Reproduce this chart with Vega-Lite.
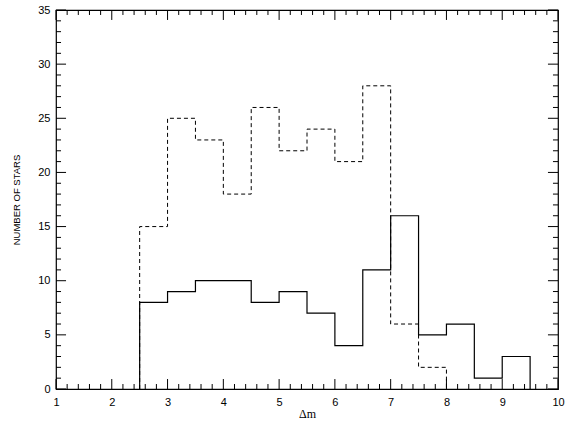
{
  "$schema": "https://vega.github.io/schema/vega-lite/v6.json",
  "width": 502,
  "height": 379,
  "autosize": "none",
  "padding": {"left": 56, "top": 10, "right": 12, "bottom": 33},
  "background": "white",
  "config": {
    "view": {"stroke": "black", "strokeWidth": 1.2},
    "axis": {
      "domain": false,
      "grid": false,
      "ticks": false,
      "labelColor": "black",
      "labelFont": "Liberation Sans",
      "labelFontSize": 11,
      "labelFlush": false,
      "titleColor": "black",
      "titleFontWeight": "normal"
    }
  },
  "datasets": {
    "dashed": [
      {"i": 0, "x": 2.5, "n": 0},
      {"i": 1, "x": 2.5, "n": 15},
      {"i": 2, "x": 3, "n": 25},
      {"i": 3, "x": 3.5, "n": 23},
      {"i": 4, "x": 4, "n": 18},
      {"i": 5, "x": 4.5, "n": 26},
      {"i": 6, "x": 5, "n": 22},
      {"i": 7, "x": 5.5, "n": 24},
      {"i": 8, "x": 6, "n": 21},
      {"i": 9, "x": 6.5, "n": 28},
      {"i": 10, "x": 7, "n": 6},
      {"i": 11, "x": 7.5, "n": 2},
      {"i": 12, "x": 8, "n": 0}
    ],
    "solid": [
      {"i": 0, "x": 2.5, "n": 0},
      {"i": 1, "x": 2.5, "n": 8},
      {"i": 2, "x": 3, "n": 9},
      {"i": 3, "x": 3.5, "n": 10},
      {"i": 4, "x": 4, "n": 10},
      {"i": 5, "x": 4.5, "n": 8},
      {"i": 6, "x": 5, "n": 9},
      {"i": 7, "x": 5.5, "n": 7},
      {"i": 8, "x": 6, "n": 4},
      {"i": 9, "x": 6.5, "n": 11},
      {"i": 10, "x": 7, "n": 16},
      {"i": 11, "x": 7.5, "n": 5},
      {"i": 12, "x": 8, "n": 6},
      {"i": 13, "x": 8.5, "n": 1},
      {"i": 14, "x": 9, "n": 3},
      {"i": 15, "x": 9.5, "n": 0}
    ],
    "xmajor": [{"v": 1}, {"v": 2}, {"v": 3}, {"v": 4}, {"v": 5}, {"v": 6}, {"v": 7}, {"v": 8}, {"v": 9}, {"v": 10}],
    "xminor": [{"v": 1.2}, {"v": 1.4}, {"v": 1.6}, {"v": 1.8}, {"v": 2.2}, {"v": 2.4}, {"v": 2.6}, {"v": 2.8}, {"v": 3.2}, {"v": 3.4}, {"v": 3.6}, {"v": 3.8}, {"v": 4.2}, {"v": 4.4}, {"v": 4.6}, {"v": 4.8}, {"v": 5.2}, {"v": 5.4}, {"v": 5.6}, {"v": 5.8}, {"v": 6.2}, {"v": 6.4}, {"v": 6.6}, {"v": 6.8}, {"v": 7.2}, {"v": 7.4}, {"v": 7.6}, {"v": 7.8}, {"v": 8.2}, {"v": 8.4}, {"v": 8.6}, {"v": 8.8}, {"v": 9.2}, {"v": 9.4}, {"v": 9.6}, {"v": 9.8}],
    "ymajor": [{"v": 0}, {"v": 5}, {"v": 10}, {"v": 15}, {"v": 20}, {"v": 25}, {"v": 30}, {"v": 35}],
    "yminor": [{"v": 1}, {"v": 2}, {"v": 3}, {"v": 4}, {"v": 6}, {"v": 7}, {"v": 8}, {"v": 9}, {"v": 11}, {"v": 12}, {"v": 13}, {"v": 14}, {"v": 16}, {"v": 17}, {"v": 18}, {"v": 19}, {"v": 21}, {"v": 22}, {"v": 23}, {"v": 24}, {"v": 26}, {"v": 27}, {"v": 28}, {"v": 29}, {"v": 31}, {"v": 32}, {"v": 33}, {"v": 34}]
  },
  "layer": [
    {
      "data": {"name": "dashed"},
      "mark": {"type": "line", "interpolate": "step-after", "color": "black", "strokeWidth": 1, "strokeDash": [4, 3]},
      "encoding": {
        "x": {"field": "x", "type": "quantitative",
          "scale": {"domain": [1, 10], "nice": false, "zero": false},
          "axis": {"orient": "bottom", "values": [1, 2, 3, 4, 5, 6, 7, 8, 9, 10], "format": "d", "labelPadding": 7,
            "title": "Δm", "titleFont": "Liberation Serif", "titleFontSize": 12, "titlePadding": 1}},
        "y": {"field": "n", "type": "quantitative",
          "scale": {"domain": [0, 35], "nice": false, "zero": true},
          "axis": {"orient": "left", "values": [0, 5, 10, 15, 20, 25, 30, 35], "format": "d", "labelPadding": 6,
            "title": "NUMBER OF STARS", "titleFont": "Liberation Sans", "titleFontSize": 9.5, "titlePadding": 16}},
        "order": {"field": "i", "type": "quantitative"}
      }
    },
    {
      "data": {"name": "solid"},
      "mark": {"type": "line", "interpolate": "step-after", "color": "black", "strokeWidth": 1.2},
      "encoding": {
        "x": {"field": "x", "type": "quantitative", "axis": null},
        "y": {"field": "n", "type": "quantitative", "axis": null},
        "order": {"field": "i", "type": "quantitative"}
      }
    },
    {
      "data": {"name": "xmajor"},
      "mark": {"type": "rule", "color": "black", "strokeWidth": 1},
      "encoding": {"x": {"field": "v", "type": "quantitative", "axis": null}, "y": {"datum": 0, "type": "quantitative", "axis": null}, "y2": {"datum": 0.92}}
    },
    {
      "data": {"name": "xmajor"},
      "mark": {"type": "rule", "color": "black", "strokeWidth": 1},
      "encoding": {"x": {"field": "v", "type": "quantitative", "axis": null}, "y": {"datum": 35, "type": "quantitative", "axis": null}, "y2": {"datum": 34.08}}
    },
    {
      "data": {"name": "xminor"},
      "mark": {"type": "rule", "color": "black", "strokeWidth": 1},
      "encoding": {"x": {"field": "v", "type": "quantitative", "axis": null}, "y": {"datum": 0, "type": "quantitative", "axis": null}, "y2": {"datum": 0.46}}
    },
    {
      "data": {"name": "xminor"},
      "mark": {"type": "rule", "color": "black", "strokeWidth": 1},
      "encoding": {"x": {"field": "v", "type": "quantitative", "axis": null}, "y": {"datum": 35, "type": "quantitative", "axis": null}, "y2": {"datum": 34.54}}
    },
    {
      "data": {"name": "ymajor"},
      "mark": {"type": "rule", "color": "black", "strokeWidth": 1},
      "encoding": {"y": {"field": "v", "type": "quantitative", "axis": null}, "x": {"datum": 1, "type": "quantitative", "axis": null}, "x2": {"datum": 1.18}}
    },
    {
      "data": {"name": "ymajor"},
      "mark": {"type": "rule", "color": "black", "strokeWidth": 1},
      "encoding": {"y": {"field": "v", "type": "quantitative", "axis": null}, "x": {"datum": 10, "type": "quantitative", "axis": null}, "x2": {"datum": 9.82}}
    },
    {
      "data": {"name": "yminor"},
      "mark": {"type": "rule", "color": "black", "strokeWidth": 1},
      "encoding": {"y": {"field": "v", "type": "quantitative", "axis": null}, "x": {"datum": 1, "type": "quantitative", "axis": null}, "x2": {"datum": 1.09}}
    },
    {
      "data": {"name": "yminor"},
      "mark": {"type": "rule", "color": "black", "strokeWidth": 1},
      "encoding": {"y": {"field": "v", "type": "quantitative", "axis": null}, "x": {"datum": 10, "type": "quantitative", "axis": null}, "x2": {"datum": 9.91}}
    }
  ],
  "resolve": {"axis": {"x": "independent", "y": "independent"}}
}
